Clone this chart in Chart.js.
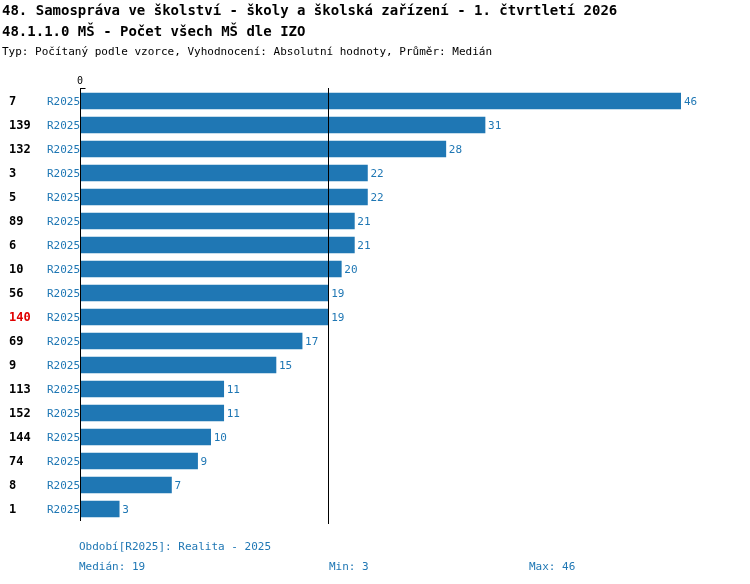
<!DOCTYPE html>
<html><head><meta charset="utf-8">
<script src="https://cdn.jsdelivr.net/npm/chart.js@4"></script>
<style>body{margin:0;background:#fff}#c{display:block}</style>
</head><body>
<div style="width:750px;height:584px"><canvas id="c"></canvas></div>
<script>
const codes = ["7","139","132","3","5","89","6","10","56","140","69","9","113","152","144","74","8","1"];
const values = [46,31,28,22,22,21,21,20,19,19,17,15,11,11,10,9,7,3];
const seriesName = "R2025";
const highlight = "140";
const median = 19;
const blue = "#1f77b4";
const mono = "'DejaVu Sans Mono', monospace";

const labelsPlugin = {
  id: "labels",
  afterDraw(chart) {
    const c = chart.ctx, x = chart.scales.x, y = chart.scales.y, a = chart.chartArea;
    c.save();
    c.fillStyle = "#000";
    c.font = "bold 14px " + mono;
    c.textBaseline = "alphabetic";
    c.fillText("48. Samospráva ve školství - školy a školská zařízení - 1. čtvrtletí 2026", 2, 15);
    c.fillText("48.1.1.0 MŠ - Počet všech MŠ dle IZO", 2, 36);
    c.font = "11px " + mono;
    c.fillText("Typ: Počítaný podle vzorce, Vyhodnocení: Absolutní hodnoty, Průměr: Medián", 2, 55);
    c.font = "10px " + mono;
    c.fillText("0", x.getPixelForValue(0) - 3, 84);
    c.strokeStyle = "#000"; c.lineWidth = 1;
    const x0 = Math.round(x.getPixelForValue(0)) + 0.5;
    const xm = Math.round(x.getPixelForValue(median)) + 0.5;
    c.beginPath();
    c.moveTo(x0, 88); c.lineTo(x0, a.bottom);
    c.moveTo(x0, 88.5); c.lineTo(x0 + 5, 88.5);
    c.moveTo(xm, 88); c.lineTo(xm, a.bottom + 3);
    c.stroke();
    c.textBaseline = "middle";
    codes.forEach((code, i) => {
      const py = y.getPixelForValue(i);
      c.font = "bold 12px " + mono;
      c.fillStyle = code === highlight ? "#e00000" : "#000";
      c.fillText(code, 9, py + 1);
      c.font = "11px " + mono;
      c.fillStyle = blue;
      c.fillText(seriesName, 47, py + 1);
      c.fillText(String(values[i]), x.getPixelForValue(values[i]) + 3, py + 1);
    });
    c.textBaseline = "alphabetic";
    c.fillStyle = blue;
    c.fillText("Období[R2025]: Realita - 2025", 79, 550);
    c.fillText("Medián: 19", 79, 570);
    c.fillText("Min: 3", 329, 570);
    c.fillText("Max: 46", 529, 570);
    c.restore();
  }
};

new Chart(document.getElementById("c"), {
  type: "bar",
  data: {
    labels: codes,
    datasets: [{ data: values, backgroundColor: blue, barThickness: 16 }]
  },
  options: {
    indexAxis: "y",
    responsive: true,
    maintainAspectRatio: false,
    animation: false,
    layout: { padding: { left: 80, right: 69, top: 89, bottom: 63 } },
    plugins: { legend: { display: false }, tooltip: { enabled: false } },
    scales: {
      x: { display: false, min: 0, max: 46 },
      y: { display: false }
    }
  },
  plugins: [labelsPlugin]
});
</script>
</body></html>
